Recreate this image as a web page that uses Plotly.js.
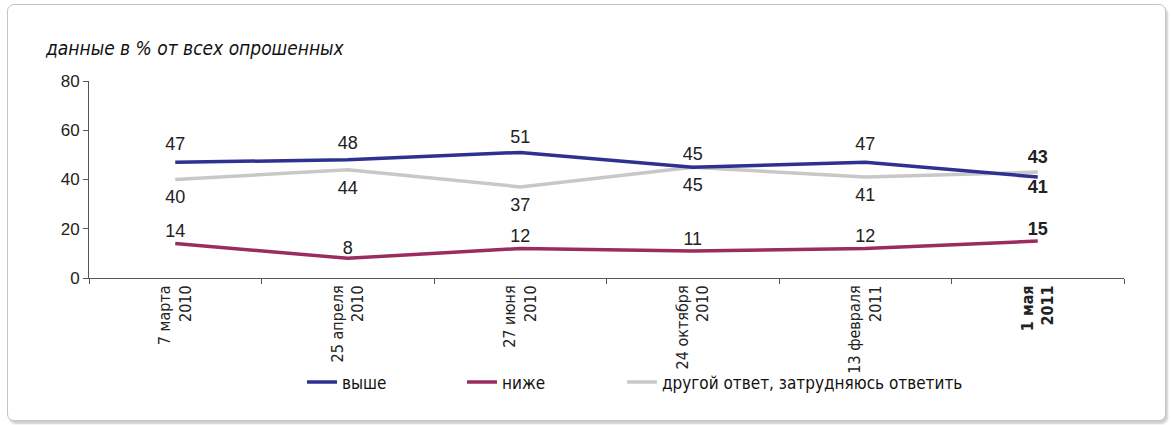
<!DOCTYPE html>
<html>
<head>
<meta charset="utf-8">
<script src="https://cdn.plot.ly/plotly-3.0.1.min.js"></script>
<style>
  html, body { margin: 0; padding: 0; background: #ffffff; }
  #card {
    position: absolute; left: 7px; top: 4px; width: 1157px; height: 415px;
    border: 1px solid #c4c4c4; border-radius: 7px;
    box-shadow: 2px 3px 2px #d0d0d0; background: #fff;
  }
  #chart { position: absolute; left: 0; top: 0; width: 1171px; height: 425px; }
</style>
</head>
<body>
<div id="card"></div>
<div id="chart"></div>
<script>
// ---- data ----
const categories = ["7 марта<br>2010", "25 апреля<br>2010", "27 июня<br>2010",
                    "24 октября<br>2010", "13 февраля<br>2011", "<b>1 мая<br>2011</b>"];
const seriesNames = ["выше", "ниже", "другой ответ, затрудняюсь ответить"];
const higher = [47, 48, 51, 45, 47, 41];
const lower  = [14, 8, 12, 11, 12, 15];
const other  = [40, 44, 37, 45, 41, 43];
const chartNote = "данные в % от всех опрошенных";

// ---- styles ----
const colors = ["#2e3192", "#9b2c5e", "#c8c8c8"];
const labelFont = { family: "Liberation Sans, Arial, sans-serif", size: 18, color: "#222" };
const narrow = "Liberation Sans Narrow, DejaVu Sans Condensed, Arial Narrow, sans-serif";

function labels(vals) {
  return vals.map((v, i) => i === vals.length - 1 ? "<b>" + v + "</b>" : String(v));
}

const higherPos = ["top center","top center","top center","top center","top center","bottom center"];
const lowerPos  = ["top center","top center","top center","top center","top center","top center"];
const otherPos  = ["bottom center","bottom center","bottom center","bottom center","bottom center","top center"];
// invisible marker sizes, only used to space the value labels from the line
const higherGap = [11, 9, 7, 3, 11, 3];
const lowerGap  = [1, 0, 1, 1, 1, 1];
const otherGap  = [15, 15, 15, 15, 15, 5];

function trace(vals, name, color, pos, gap, legendId) {
  return {
    x: categories, y: vals, name: name, type: "scatter",
    mode: "lines+markers+text",
    line: { color: color, width: 3.5 },
    marker: { size: gap, color: "rgba(0,0,0,0)", opacity: 0, line: { width: 0, color: "rgba(0,0,0,0)" } },
    text: labels(vals), textposition: pos, textfont: labelFont,
    cliponaxis: false, hoverinfo: "skip", legend: legendId
  };
}

const data = [
  trace(other, seriesNames[2], colors[2], otherPos, otherGap, "legend3"),
  trace(lower, seriesNames[1], colors[1], lowerPos, lowerGap, "legend2"),
  trace(higher, seriesNames[0], colors[0], higherPos, higherGap, "legend"),
];

const legendBase = {
  orientation: "h", xanchor: "left", yanchor: "middle", y: -0.53,
  bgcolor: "rgba(0,0,0,0)", font: { family: narrow, size: 17, color: "#111" },
  itemwidth: 30
};

const layout = {
  width: 1171, height: 425,
  paper_bgcolor: "rgba(0,0,0,0)", plot_bgcolor: "rgba(0,0,0,0)",
  margin: { l: 89, r: 47, t: 81, b: 147 },
  showlegend: true,
  legend:  Object.assign({}, legendBase, { x: (302 - 89) / 1035 }),
  legend2: Object.assign({}, legendBase, { x: (462 - 89) / 1035 }),
  legend3: Object.assign({}, legendBase, { x: (622 - 89) / 1035 }),
  xaxis: {
    type: "category", range: [-0.5, 5.5],
    showgrid: false, zeroline: false,
    showline: true, linecolor: "#555", linewidth: 1,
    ticks: "outside", ticklen: 5, tickcolor: "#555",
    tickson: "boundaries",
    tickangle: -90,
    tickfont: { family: narrow, size: 16, color: "#222" },
  },
  yaxis: {
    range: [0, 80], tickvals: [0, 20, 40, 60, 80],
    showgrid: false, zeroline: false,
    showline: true, linecolor: "#555", linewidth: 1,
    ticks: "outside", ticklen: 5, tickcolor: "#555",
    tickfont: { family: "Liberation Sans, Arial, sans-serif", size: 17, color: "#222" },
  },
  annotations: [{
    text: "<i>" + chartNote + "</i>", xref: "paper", yref: "paper",
    x: (43 - 89) / 1035, y: (278 - 48) / 197, xanchor: "left", yanchor: "middle",
    showarrow: false, font: { family: narrow, size: 19, color: "#111" }
  }]
};

Plotly.newPlot("chart", data, layout, { displayModeBar: false, staticPlot: true });
</script>
</body>
</html>
